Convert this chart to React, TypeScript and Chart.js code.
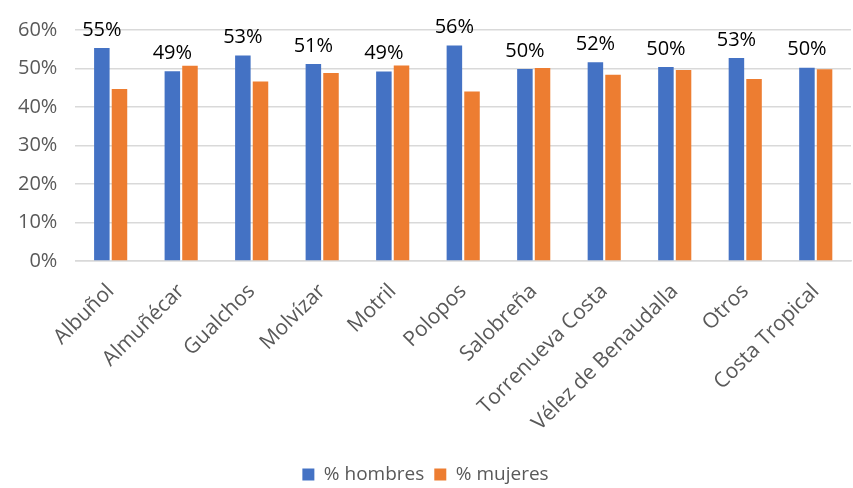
import React, { useEffect, useRef } from "react";
import { Chart, registerables } from "chart.js";

Chart.register(...registerables);

const categories = [
  "Albuñol",
  "Almuñécar",
  "Gualchos",
  "Molvízar",
  "Motril",
  "Polopos",
  "Salobreña",
  "Torrenueva Costa",
  "Vélez de Benaudalla",
  "Otros",
  "Costa Tropical",
];
const hombres = [55.3, 49.3, 53.4, 51.2, 49.2, 56.0, 49.9, 51.6, 50.4, 52.7, 50.2];
const mujeres = [44.7, 50.7, 46.6, 48.8, 50.8, 44.0, 50.1, 48.4, 49.6, 47.3, 49.8];
const yTicks = [0, 10, 20, 30, 40, 50, 60];

const FONT = "'Open Sans', Lato, sans-serif";

const labelPlugin = {
  id: "hombresLabels",
  afterDatasetsDraw(chart: any) {
    const ctx = chart.ctx;
    const meta = chart.getDatasetMeta(0);
    ctx.save();
    ctx.font = `20px ${FONT}`;
    ctx.fillStyle = "#000000";
    ctx.textAlign = "center";
    ctx.textBaseline = "bottom";
    meta.data.forEach((bar: any, i: number) => {
      ctx.fillText(`${Math.round(hombres[i])}%`, bar.x, bar.y - 8);
    });
    ctx.restore();
  },
};

export default function App() {
  const ref = useRef<HTMLCanvasElement>(null);
  useEffect(() => {
    if (!ref.current) return;
    const chart = new Chart(ref.current, {
      type: "bar",
      data: {
        labels: categories,
        datasets: [
          {
            label: "% hombres",
            data: hombres,
            backgroundColor: "#4472C4",
            categoryPercentage: 0.5,
            barPercentage: 0.88,
          },
          {
            label: "% mujeres",
            data: mujeres,
            backgroundColor: "#ED7D31",
            categoryPercentage: 0.5,
            barPercentage: 0.88,
          },
        ],
      },
      options: {
        responsive: true,
        maintainAspectRatio: false,
        animation: false,
        layout: { padding: { top: 12, right: 2, left: 0, bottom: -6 } },
        plugins: {
          legend: {
            position: "bottom",
            labels: {
              boxWidth: 12,
              boxHeight: 12,
              color: "#595959",
              font: { size: 19, family: FONT },
              padding: 10,
            },
          },
          tooltip: { enabled: false },
        },
        scales: {
          x: {
            grid: { display: false },
            border: { color: "#d9d9d9", width: 1.5 },
            afterFit(axis: any) {
              axis.height = 194;
            },
            ticks: {
              color: "#595959",
              font: { size: 21, family: FONT },
              minRotation: 45,
              maxRotation: 45,
              autoSkip: false,
              padding: 10,
            },
          },
          y: {
            min: 0,
            max: 60,
            afterBuildTicks(axis: any) {
              axis.ticks = yTicks.map((v) => ({ value: v }));
            },
            grid: { color: "#d9d9d9", lineWidth: 1.5, drawTicks: false },
            border: { display: false },
            ticks: {
              color: "#595959",
              font: { size: 20, family: FONT },
              padding: 18,
              callback: (v: any) => `${v}%`,
            },
          },
        },
      },
      plugins: [labelPlugin],
    });
    return () => chart.destroy();
  }, []);
  return (
    <div style={{ position: "fixed", left: 0, top: 0, width: 853, height: 488 }}>
      <canvas ref={ref} />
    </div>
  );
}
